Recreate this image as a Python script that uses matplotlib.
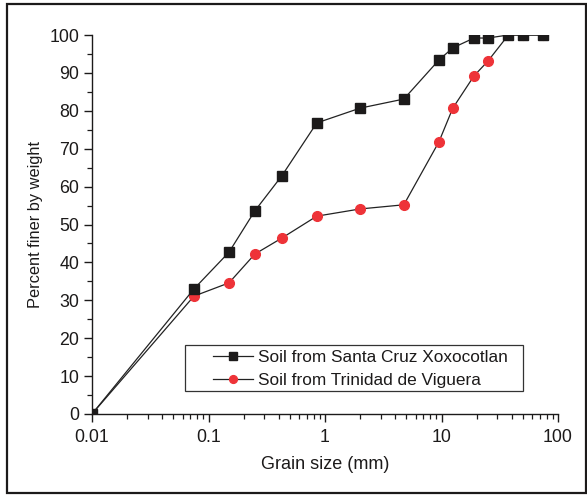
import matplotlib
matplotlib.use("Agg")
import matplotlib.pyplot as plt
from matplotlib.patches import Rectangle
from matplotlib.ticker import LogLocator, MultipleLocator, FixedLocator, FixedFormatter

plt.rcParams['font.family'] = ['Liberation Sans', 'DejaVu Sans']

grain_size = [0.01, 0.075, 0.15, 0.25, 0.425, 0.85, 2.0, 4.75, 9.5, 12.5, 19, 25, 37.5, 50, 75]
santa_cruz = [0, 33.0, 42.7, 53.6, 62.8, 76.8, 80.7, 83.1, 93.4, 96.6, 99.2, 99.2, 100, 100, 100]
trinidad = [0, 31.1, 34.6, 42.2, 46.4, 52.2, 54.1, 55.2, 71.8, 80.7, 89.2, 93.1, 100, 100, 100]
x_ticks = [0.01, 0.1, 1, 10, 100]
x_labels = ["0.01", "0.1", "1", "10", "100"]

W, H = 587, 495
fig = plt.figure(figsize=(W/100, H/100), dpi=100)
ax = fig.add_axes([92/W, 1-414/H, (558-92)/W, (414-35)/H])

ax.plot(grain_size, trinidad, color='#222222', lw=0.9, marker='o', ms=7,
        mfc='#ee3338', mec='#ee3338', label='Soil from Trinidad de Viguera', zorder=3)
ax.plot(grain_size, santa_cruz, color='#222222', lw=0.9, marker='s', ms=6.5,
        mfc='#1c1a1a', mec='#1c1a1a', label='Soil from Santa Cruz Xoxocotlan', zorder=4)

ax.set_xscale('log')
ax.set_xlim(0.01, 100)
ax.set_ylim(0, 100)
ax.xaxis.set_major_locator(FixedLocator(x_ticks))
ax.xaxis.set_major_formatter(FixedFormatter(x_labels))
ax.xaxis.set_minor_locator(LogLocator(base=10, subs=range(2, 10), numticks=20))
ax.yaxis.set_major_locator(MultipleLocator(10))
ax.yaxis.set_minor_locator(MultipleLocator(5))
ax.yaxis.set_major_formatter(plt.FuncFormatter(lambda v, p: f"{int(v)}"))

for s in ['top', 'right']:
    ax.spines[s].set_visible(False)
for s in ['left', 'bottom']:
    ax.spines[s].set_linewidth(1.0)
    ax.spines[s].set_color('#1c1a1a')
ax.tick_params(which='major', direction='out', length=6, width=1.0, labelsize=12.8,
               colors='#1c1a1a', pad=3)
ax.tick_params(which='minor', direction='out', length=3.5, width=0.9, colors='#1c1a1a')
ax.tick_params(axis='x', which='major', pad=5)

ax.set_xlabel('Grain size (mm)', fontsize=13, color='#1c1a1a', labelpad=7)
ax.set_ylabel('Percent finer by weight', fontsize=11.8, color='#1c1a1a', labelpad=5)

# legend box drawn manually, legend content placed inside
box = Rectangle(((185-92)/466, (414-391)/379), (523-185)/466, (391-345)/379,
                transform=ax.transAxes, fill=True, facecolor='white',
                edgecolor='#333333', lw=0.9, zorder=5)
ax.add_patch(box)
handles, labels = ax.get_legend_handles_labels()
leg = ax.legend(handles[::-1], labels[::-1], loc='center left',
                bbox_to_anchor=((213-92)/466, (414-369)/379),
                fontsize=12.4, frameon=False,
                markerscale=0.8, handlelength=2.3, handletextpad=0.3,
                borderpad=0.0, labelspacing=0.45, borderaxespad=0)
leg.set_zorder(6)
for t in leg.get_texts():
    t.set_color('#1c1a1a')

fig.patches.append(Rectangle((7/W, 1-493/H), (586-7)/W, (493-4)/H,
                             transform=fig.transFigure, fill=False,
                             edgecolor='#1c1a1a', lw=1.6))

fig.savefig('out.png', dpi=100)
